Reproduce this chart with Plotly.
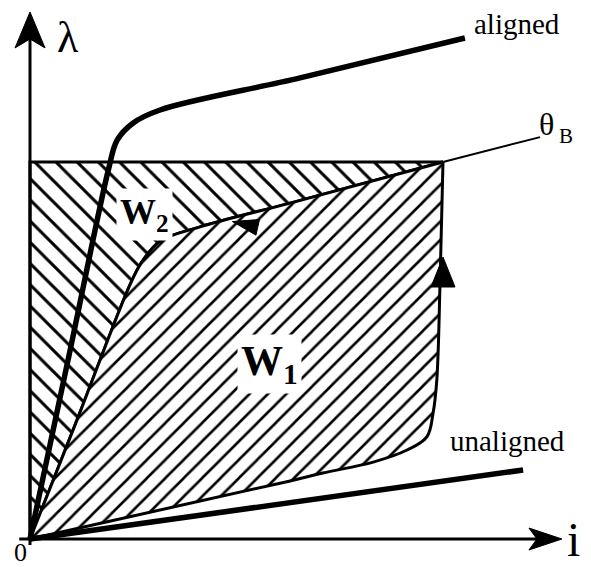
import math
import plotly.graph_objects as go

# Flux-linkage / current plane, normalised so that the commutation point theta_B is (1, 1)
# i  -> current / i_B,   lam -> flux linkage / lambda_B

# magnetisation curve, aligned rotor position
aligned_i = [0.0, 0.097, 0.190, 0.211, 0.249, 0.315, 0.654, 1.053]
aligned_lam = [0.0, 0.500, 0.980, 1.058, 1.103, 1.138, 1.223, 1.329]

# magnetisation curve, unaligned rotor position
unaligned_i = [0.0, 1.194]
unaligned_lam = [0.0, 0.183]

# energising branch of the trajectory (origin -> theta_B)
rise_i = [0.0, 0.630, 0.709, 0.831, 0.913, 0.961, 0.976, 0.985, 0.993, 1.0]
rise_lam = [0.0, 0.154, 0.175, 0.204, 0.236, 0.271, 0.334, 0.422, 0.687, 1.0]

# de-energising branch of the trajectory (stored origin -> theta_B)
fall_i = [0.0, 0.114, 0.242, 0.271, 0.315, 0.412, 0.630, 1.0]
fall_lam = [0.0, 0.316, 0.674, 0.735, 0.790, 0.828, 0.891, 1.0]

# co-energy box: lambda axis up to lambda_B, then across to theta_B
box_i = [0.0, 0.0, 1.0]
box_lam = [0.0, 1.0, 1.0]

# axis extents and leader line for the theta_B label
x_axis_i = [-0.026, 1.288]
y_axis_lam = [-0.016, 1.398]
theta_leader_i = [1.0, 1.235]
theta_leader_lam = [1.0, 1.066]

# direction arrows on the trajectory: tip position and pixel direction
arrow_fall = dict(tip=(0.490, 0.842), direction=(-53, 12))
arrow_rise = dict(tip=(1.0, 0.748), direction=(0, 1))

W, H = 591, 567
PX_I, PX_LAM = 413.0, 377.0      # pixels per normalised unit
X0_PX, Y0_PX = 30.0, 539.0       # origin position on the page

x_range = [-X0_PX / PX_I, (W - X0_PX) / PX_I]
y_range = [-(H - Y0_PX) / PX_LAM, Y0_PX / PX_LAM]

FONT = "Liberation Serif"
INK = "black"


def arrowhead(tip, direction, length, half_width, notch=0.0):
    """SVG path of a filled arrowhead; sizes are in pixels, tip in data units."""
    dx, dy = direction
    n = math.hypot(dx, dy)
    ux, uy = dx / n, dy / n
    px, py = -uy, ux
    tx, ty = tip[0] * PX_I, tip[1] * PX_LAM
    bx, by = tx - ux * length, ty - uy * length
    nx, ny = tx - ux * (length - notch), ty - uy * (length - notch)
    pts = [(tx, ty), (bx + px * half_width, by + py * half_width), (nx, ny),
           (bx - px * half_width, by - py * half_width)]
    return "M " + " L ".join(f"{x / PX_I:.5f},{y / PX_LAM:.5f}" for x, y in pts) + " Z"


def hatch(shape, size):
    return dict(shape=shape, size=size, solidity=0.2, fgcolor=INK,
                fgopacity=1, bgcolor="white", fillmode="replace")


fig = go.Figure()

# W2 region: between the box and the de-energising branch
fig.add_trace(go.Scatter(x=box_i, y=box_lam, mode="lines",
                         line=dict(color=INK, width=3), hoverinfo="skip"))
fig.add_trace(go.Scatter(x=fall_i, y=fall_lam, mode="lines", fill="tonext",
                         fillcolor="white",
                         line=dict(color=INK, width=3, shape="spline"),
                         fillpattern=hatch("\\", 15), hoverinfo="skip"))

# W1 region: inside the energy-conversion loop
fig.add_trace(go.Scatter(x=rise_i, y=rise_lam, mode="lines",
                         line=dict(color=INK, width=3, shape="spline"),
                         hoverinfo="skip"))
fig.add_trace(go.Scatter(x=fall_i, y=fall_lam, mode="lines", fill="tonext",
                         fillcolor="white",
                         line=dict(color=INK, width=3, shape="spline"),
                         fillpattern=hatch("/", 13), hoverinfo="skip"))

# magnetisation curves
fig.add_trace(go.Scatter(x=aligned_i, y=aligned_lam, mode="lines",
                         line=dict(color=INK, width=5.5, shape="spline"),
                         hoverinfo="skip"))
fig.add_trace(go.Scatter(x=unaligned_i, y=unaligned_lam, mode="lines",
                         line=dict(color=INK, width=5.5), hoverinfo="skip"))

# theta_B leader
fig.add_trace(go.Scatter(x=theta_leader_i, y=theta_leader_lam, mode="lines",
                         line=dict(color=INK, width=2), hoverinfo="skip"))

shapes = [
    dict(type="line", x0=x_axis_i[0], y0=0, x1=x_axis_i[1] - 20 / PX_I, y1=0,
         line=dict(color=INK, width=3)),
    dict(type="line", x0=0, y0=y_axis_lam[0], x1=0, y1=y_axis_lam[1] - 20 / PX_LAM,
         line=dict(color=INK, width=3)),
    dict(type="path", path=arrowhead((x_axis_i[1], 0), (1, 0), 33, 11, 8),
         fillcolor=INK, line=dict(color=INK, width=1)),
    dict(type="path", path=arrowhead((0, y_axis_lam[1]), (0, 1), 36, 15, 9),
         fillcolor=INK, line=dict(color=INK, width=1)),
    dict(type="path", path=arrowhead(arrow_fall["tip"], arrow_fall["direction"], 26, 8, 0),
         fillcolor=INK, line=dict(color=INK, width=1)),
    dict(type="path", path=arrowhead(arrow_rise["tip"], arrow_rise["direction"], 30, 12, 0),
         fillcolor=INK, line=dict(color=INK, width=1)),
]

annotations = [
    dict(x=0.092, y=1.329, text="λ", font=dict(size=44)),
    dict(x=1.317, y=0.0, text="i", font=dict(size=48)),
    dict(x=-0.022, y=-0.036, text="0", font=dict(size=26)),
    dict(x=1.179, y=1.366, text="aligned", font=dict(size=29)),
    dict(x=1.157, y=0.260, text="unaligned", font=dict(size=29)),
    dict(x=1.251, y=1.100, text="θ", font=dict(size=32)),
    dict(x=1.298, y=1.070, text="B", font=dict(size=21)),
    dict(x=0.278, y=0.862, text="<b>W</b><sub><b>2</b></sub>", font=dict(size=36),
         bgcolor="white", borderpad=3),
    dict(x=0.581, y=0.464, text="<b>W</b><sub><b>1</b></sub>", font=dict(size=42),
         bgcolor="white", borderpad=3),
]
for a in annotations:
    a.update(xref="x", yref="y", showarrow=False, xanchor="center", yanchor="middle")
    a["font"].update(family=FONT, color=INK)

fig.update_layout(
    width=W, height=H, autosize=False,
    margin=dict(l=0, r=0, t=0, b=0),
    paper_bgcolor="white", plot_bgcolor="white",
    showlegend=False,
    xaxis=dict(range=x_range, visible=False, fixedrange=True),
    yaxis=dict(range=y_range, visible=False, fixedrange=True),
    shapes=shapes, annotations=annotations,
)

fig.write_html("out.html", config={"displayModeBar": False})
